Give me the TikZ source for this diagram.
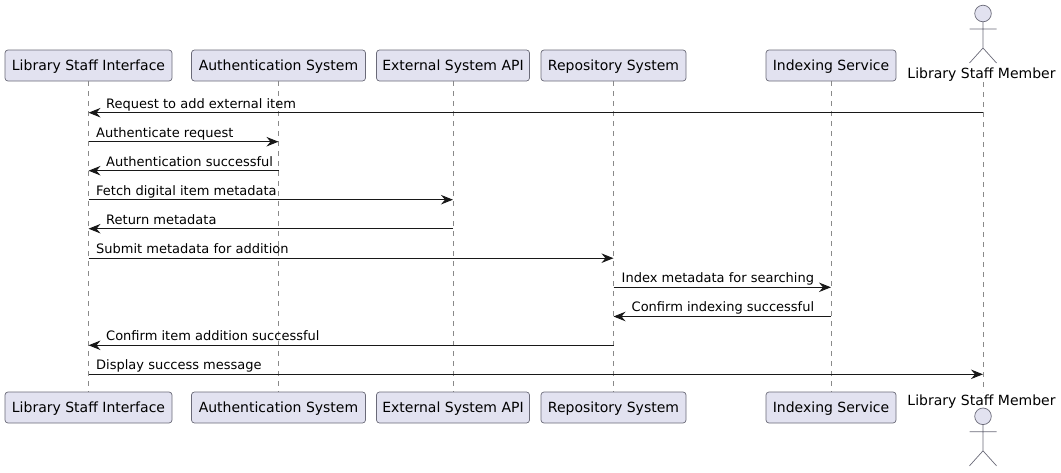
\documentclass[tikz,border=0pt]{standalone}
\usepackage{fontspec}
\setmainfont{DejaVu Sans}
\usetikzlibrary{arrows.meta}
\definecolor{partfill}{HTML}{E2E2F0}
\definecolor{partline}{HTML}{6A6A78}
\definecolor{lifeline}{HTML}{8A8A8A}
\definecolor{inkc}{HTML}{181818}
\tikzset{
  x=1pt,y=-1pt,
  partbox/.style={draw=partline,fill=partfill,line width=0.7pt,rounded corners=3pt,minimum height=31pt,inner sep=0pt,text height=13pt,text depth=3pt,font=\fontsize{14}{16}\selectfont,text=black},
  lifeln/.style={draw=lifeline,line width=0.8pt,dash pattern=on 5pt off 5pt},
  msg/.style={draw=inkc,line width=1pt,-{Stealth[length=12pt,width=9.5pt,inset=4pt,fill=inkc]}},
  msgtext/.style={anchor=base west,inner sep=0pt,font=\fontsize{13}{15}\selectfont,text=black},
  actortext/.style={anchor=base,inner sep=0pt,font=\fontsize{14}{16}\selectfont,text=black},
  actorhead/.style={draw=partline,fill=partfill,line width=0.7pt,circle,minimum size=16.6pt,inner sep=0pt},
  actorline/.style={draw=partline,line width=0.7pt}
}
\newcommand{\actorfig}[3]{% name, centre x, head centre y
  \node[actorhead] (#1) at (#2,#3) {};
  \coordinate (#1neck) at (#2,#3+8.3);
  \coordinate (#1hip) at (#2,#3+34.5);
  \coordinate (#1armL) at (#2-13.5,#3+15.5);
  \coordinate (#1armR) at (#2+13.5,#3+15.5);
  \coordinate (#1legL) at (#2-13.5,#3+49.5);
  \coordinate (#1legR) at (#2+13.5,#3+49.5);
  \draw[actorline] (#1neck) -- (#1hip) (#1armL) -- (#1armR) (#1legL) -- (#1hip) -- (#1legR);
}
\begin{document}
\begin{tikzpicture}
\useasboundingbox (0,0) rectangle (1061,472);
% lifelines first
\coordinate (lAt) at (983,64);
\coordinate (lAb) at (983,392);
\coordinate (lLt) at (88.5,81);
\coordinate (lLb) at (88.5,392);
\coordinate (lUt) at (278.5,81);
\coordinate (lUb) at (278.5,392);
\coordinate (lEt) at (453,81);
\coordinate (lEb) at (453,392);
\coordinate (lRt) at (613.5,81);
\coordinate (lRb) at (613.5,392);
\coordinate (lIt) at (831,81);
\coordinate (lIb) at (831,392);
\draw[lifeln] (lLt) -- (lLb);
\draw[lifeln] (lUt) -- (lUb);
\draw[lifeln] (lEt) -- (lEb);
\draw[lifeln] (lRt) -- (lRb);
\draw[lifeln] (lIt) -- (lIb);
\draw[lifeln] (983,82) -- (lAb);
% participants
\node[partbox,minimum width=167pt] (lib) at (88.5,65.5) {Library Staff Interface};
\node[partbox,minimum width=174pt] (auth) at (278.5,65.5) {Authentication System};
\node[partbox,minimum width=153pt] (ext) at (453,65.5) {External System API};
\node[partbox,minimum width=145pt] (repo) at (613.5,65.5) {Repository System};
\node[partbox,minimum width=130pt] (idx) at (831,65.5) {Indexing Service};
\node[partbox,minimum width=167pt] (libB) at (88.5,407.5) {Library Staff Interface};
\node[partbox,minimum width=174pt] (authB) at (278.5,407.5) {Authentication System};
\node[partbox,minimum width=153pt] (extB) at (453,407.5) {External System API};
\node[partbox,minimum width=145pt] (repoB) at (613.5,407.5) {Repository System};
\node[partbox,minimum width=130pt] (idxB) at (831,407.5) {Indexing Service};
% actors
\actorfig{act}{983}{13.5}
\node[actortext] (actT) at (981.5,78) {Library Staff Member};
\actorfig{actB}{983}{416.3}
\node[actortext] (actBT) at (981.5,405) {Library Staff Member};
% message rows
\coordinate (y1) at (0,112.7);
\coordinate (y2) at (0,141.7);
\coordinate (y3) at (0,170.7);
\coordinate (y4) at (0,199.7);
\coordinate (y5) at (0,228.7);
\coordinate (y6) at (0,258.2);
\coordinate (y7) at (0,287.3);
\coordinate (y8) at (0,316.5);
\coordinate (y9) at (0,345.3);
\coordinate (y10) at (0,374.3);
\draw[msg] (lAt |- y1) -- (lLt |- y1);
\draw[msg] (lLt |- y2) -- (lUt |- y2);
\draw[msg] (lUt |- y3) -- (lLt |- y3);
\draw[msg] (lLt |- y4) -- (lEt |- y4);
\draw[msg] (lEt |- y5) -- (lLt |- y5);
\draw[msg] (lLt |- y6) -- (lRt |- y6);
\draw[msg] (lRt |- y7) -- (lIt |- y7);
\draw[msg] (lIt |- y8) -- (lRt |- y8);
\draw[msg] (lRt |- y9) -- (lLt |- y9);
\draw[msg] (lLt |- y10) -- (lAt |- y10);
% labels
\node[msgtext] (t1) at (106,108) {Request to add external item};
\node[msgtext] (t2) at (96,137) {Authenticate request};
\node[msgtext] (t3) at (106,166) {Authentication successful};
\node[msgtext] (t4) at (96,195) {Fetch digital item metadata};
\node[msgtext] (t5) at (106,224) {Return metadata};
\node[msgtext] (t6) at (96,253.5) {Submit metadata for addition};
\node[msgtext] (t7) at (621.5,282.5) {Index metadata for searching};
\node[msgtext] (t8) at (631.5,311.5) {Confirm indexing successful};
\node[msgtext] (t9) at (106,340.5) {Confirm item addition successful};
\node[msgtext] (t10) at (96,369.5) {Display success message};
\end{tikzpicture}
\end{document}
